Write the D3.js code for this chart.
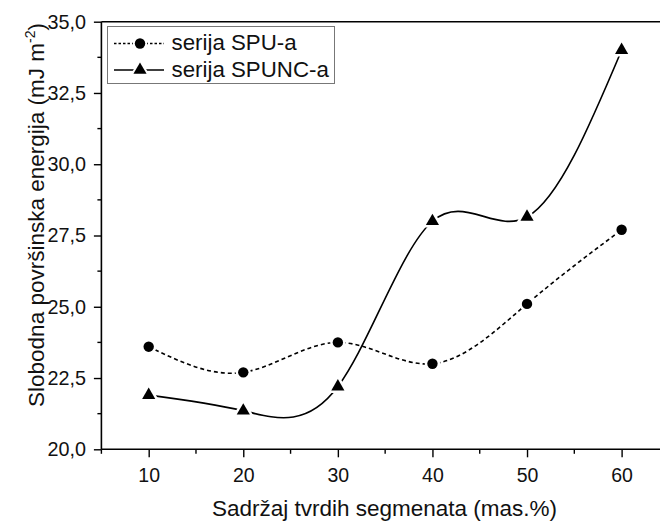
<!DOCTYPE html>
<html>
<head>
<meta charset="utf-8">
<script src="https://cdn.jsdelivr.net/npm/d3@7/dist/d3.min.js"></script>
<style>
  html, body { margin: 0; padding: 0; background: #fff; }
  svg { display: block; font-family: "Liberation Sans", Arial, sans-serif; }
</style>
</head>
<body>
<svg id="chart" width="660" height="522"></svg>
<script>
// Hard-segment content (mas.%)
const categories = [10, 20, 30, 40, 50, 60];
// Surface free energy (mJ m^-2)
const spuValues   = [23.6, 22.7, 23.75, 23.0, 25.1, 27.7];
const spuncValues = [21.9, 21.35, 22.2, 28.0, 28.15, 34.0];
const seriesNames = ["serija SPU-a", "serija SPUNC-a"];
const yTickValues = [20, 22.5, 25, 27.5, 30, 32.5, 35];
const xTickValues = [10, 20, 30, 40, 50, 60];

const svg = d3.select("#chart");
const plotLeft = 101.4, plotRight = 668.9, plotTop = 21.7, plotBottom = 449.3;
const FONT = "Liberation Sans, Arial, sans-serif";

const x = d3.scaleLinear().domain([5, 65]).range([plotLeft, plotRight]);
const y = d3.scaleLinear().domain([20, 35]).range([plotBottom, plotTop]);

const fmt = d => d3.format(".1f")(d).replace(".", ",");

// Top frame line (runs off the right edge)
svg.append("line").attr("x1", plotLeft).attr("x2", 660).attr("y1", plotTop).attr("y2", plotTop)
  .attr("stroke", "#000").attr("stroke-width", 1.6);

// Y axis
const yAxis = d3.axisLeft(y).tickValues(yTickValues).tickSize(7.5).tickPadding(8).tickFormat(fmt);
const gy = svg.append("g").attr("transform", `translate(${plotLeft},0)`).call(yAxis);
gy.select(".domain").attr("d", `M0,${plotBottom}V${plotTop}`).attr("stroke-width", 1.6);
gy.selectAll(".tick line").attr("stroke-width", 1.4);
gy.selectAll(".tick text").attr("font-size", 19.8).attr("fill", "#111").attr("font-family", FONT);
// minor y ticks
const yMinor = d3.range(21.25, 35, 2.5);
svg.append("g").selectAll("line").data(yMinor).join("line")
  .attr("x1", plotLeft - 4).attr("x2", plotLeft).attr("y1", d => y(d)).attr("y2", d => y(d))
  .attr("stroke", "#000").attr("stroke-width", 1.4);

// X axis
const xAxis = d3.axisBottom(x).tickValues(xTickValues).tickSize(8).tickPadding(11).tickFormat(d3.format("d"));
const gx = svg.append("g").attr("transform", `translate(0,${plotBottom})`).call(xAxis);
gx.select(".domain").attr("d", `M${plotLeft},0H660`).attr("stroke-width", 1.6);
gx.selectAll(".tick line").attr("stroke-width", 1.4);
gx.selectAll(".tick text").attr("font-size", 19.5).attr("fill", "#111").attr("font-family", FONT);
const xMinor = d3.range(5, 66, 10);
svg.append("g").selectAll("line").data(xMinor).join("line")
  .attr("x1", d => x(d)).attr("x2", d => x(d)).attr("y1", plotBottom).attr("y2", plotBottom + 4.5)
  .attr("stroke", "#000").attr("stroke-width", 1.4);

// Axis titles
svg.append("text").attr("x", 384.5).attr("y", 516).attr("text-anchor", "middle")
  .attr("font-size", 22.5).attr("fill", "#111").text("Sadržaj tvrdih segmenata (mas.%)");

const yt = svg.append("text").attr("transform", "translate(44,215) rotate(-90)")
  .attr("text-anchor", "middle").attr("font-size", 22.5).attr("fill", "#111");
yt.append("tspan").text("Slobodna površinska energija (mJ m");
yt.append("tspan").attr("dy", -9).attr("font-size", 14).text("-2");
yt.append("tspan").attr("dy", 9).text(")");

// Curves
const line = d3.line().x((d, i) => x(categories[i])).y(d => y(d)).curve(d3.curveNatural);

svg.append("path").datum(spuValues).attr("d", line).attr("fill", "none")
  .attr("stroke", "#000").attr("stroke-width", 1.6).attr("stroke-dasharray", "4,3");
svg.append("path").datum(spuncValues).attr("d", line).attr("fill", "none")
  .attr("stroke", "#000").attr("stroke-width", 1.6);

// Markers with white halo so the line stops short of each symbol
const tri = d3.symbol().type(d3.symbolTriangle).size(75);
svg.append("g").selectAll("circle").data(spuValues).join("circle")
  .attr("cx", (d, i) => x(categories[i])).attr("cy", d => y(d)).attr("r", 5.2)
  .attr("fill", "#000").attr("stroke", "#fff").attr("stroke-width", 5).style("paint-order", "stroke");
svg.append("g").selectAll("path").data(spuncValues).join("path")
  .attr("d", tri).attr("transform", (d, i) => `translate(${x(categories[i])},${y(d)})`)
  .attr("fill", "#000").attr("stroke", "#fff").attr("stroke-width", 5).style("paint-order", "stroke");

// Legend
const lg = svg.append("g");
lg.append("rect").attr("x", 107.5).attr("y", 26.5).attr("width", 227).attr("height", 57)
  .attr("fill", "#fff").attr("stroke", "#777").attr("stroke-width", 1);
const legendRows = [
  { name: seriesNames[0], dash: "2.5,2", marker: "circle", y: 43.5 },
  { name: seriesNames[1], dash: null, marker: "triangle", y: 70 }
];
legendRows.forEach(r => {
  lg.append("line").attr("x1", 114).attr("x2", 164).attr("y1", r.y).attr("y2", r.y)
    .attr("stroke", "#000").attr("stroke-width", 1.4).attr("stroke-dasharray", r.dash);
  if (r.marker === "circle") {
    lg.append("circle").attr("cx", 140).attr("cy", r.y).attr("r", 5.2).attr("fill", "#000")
      .attr("stroke", "#fff").attr("stroke-width", 4).style("paint-order", "stroke");
  } else {
    lg.append("path").attr("d", tri).attr("transform", `translate(140,${r.y})`).attr("fill", "#000")
      .attr("stroke", "#fff").attr("stroke-width", 4).style("paint-order", "stroke");
  }
  lg.append("text").attr("x", 171.5).attr("y", r.y + 6.8).attr("font-size", 22.3).attr("fill", "#111").text(r.name);
});
</script>
</body>
</html>
